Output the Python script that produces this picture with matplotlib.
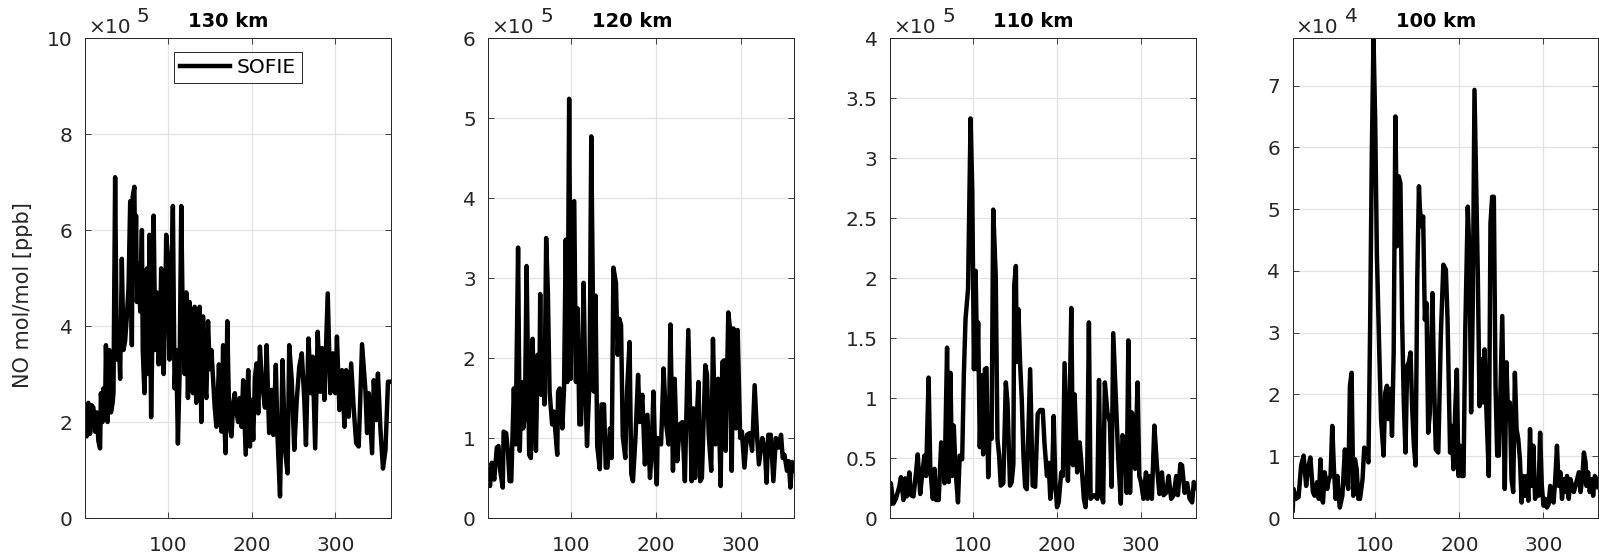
import matplotlib
matplotlib.use("Agg")
import matplotlib.pyplot as plt
from matplotlib.transforms import offset_copy

# altitude panels, values in units of 10^exp
titles = ["130 km", "120 km", "110 km", "100 km"]
exponents = [5, 5, 5, 4]
y_tops = [10, 6, 4, None]  # None -> tight to data max
x_lims = [(1, 366), (3, 362), (1, 365), (2, 365)]
y_ticks = [
    [0, 2, 4, 6, 8, 10],
    [0, 1, 2, 3, 4, 5, 6],
    [0, 0.5, 1, 1.5, 2, 2.5, 3, 3.5, 4],
    [0, 1, 2, 3, 4, 5, 6, 7],
]

day_130 = [1, 3, 5, 7, 9, 11, 13, 15, 17, 19, 20, 22, 23, 25, 26, 28, 30, 32, 34, 35,
           37, 39, 41, 43, 45, 47, 49, 51, 53, 55, 57, 58, 60, 61, 62, 63, 65, 67, 69, 70,
           72, 74, 75, 77, 78, 80, 81, 83, 85, 87, 89, 91, 92, 93, 95, 97, 98, 100, 102, 104,
           106, 108, 110, 112, 114, 116, 118, 120, 122, 124, 126, 128, 130, 132, 134, 136, 138, 140, 142, 144,
           146, 148, 150, 152, 154, 156, 158, 160, 161, 163, 164, 166, 167, 169, 171, 173, 174, 176, 178, 180,
           182, 184, 186, 188, 190, 193, 196, 198, 200, 202, 204, 206, 208, 210, 212, 214, 216, 218, 221, 224,
           226, 229, 231, 234, 237, 240, 243, 245, 248, 251, 254, 257, 260, 263, 265, 268, 271, 273, 276, 279,
           282, 284, 287, 291, 294, 297, 300, 302, 305, 308, 311, 313, 316, 319, 322, 325, 328, 332, 336, 338,
           340, 344, 346, 349, 351, 354, 357, 360, 363, 366]
no_130 = [2.2, 1.7, 2.4, 1.75, 2.35, 2.3, 1.8, 2.2, 1.6, 1.45, 2.6, 2.0, 2.7, 2.3, 3.6, 2.0, 3.5, 2.2, 2.4, 2.6,
          7.1, 3.3, 4.0, 2.9, 5.4, 3.5, 3.7, 4.2, 4.8, 6.6, 3.6, 6.7, 6.9, 5.0, 6.3, 4.5, 5.3, 4.3, 6.0, 3.5,
          2.6, 4.0, 5.2, 3.0, 5.9, 2.1, 3.2, 6.3, 3.5, 4.7, 3.2, 4.0, 5.2, 3.5, 3.0, 4.5, 5.9, 5.4, 3.3, 4.8,
          6.5, 2.7, 3.5, 1.55, 3.0, 6.5, 3.85, 3.0, 4.7, 2.5, 4.5, 3.0, 2.6, 4.4, 2.4, 3.5, 4.4, 2.0, 4.2, 2.8,
          2.5, 4.1, 3.1, 3.5, 2.9, 2.3, 1.9, 2.7, 3.2, 2.2, 1.8, 3.6, 2.2, 1.35, 4.1, 2.3, 1.9, 1.7, 2.4, 2.6,
          2.2, 2.0, 2.5, 1.9, 2.87, 1.32, 3.08, 1.49, 2.46, 1.63, 2.94, 3.22, 2.18, 3.57, 2.9, 2.6, 2.3, 3.6, 1.77, 2.67,
          1.73, 3.19, 1.7, 0.45, 3.29, 1.42, 0.93, 3.6, 2.87, 1.42, 2.46, 3.15, 3.43, 2.46, 1.52, 3.74, 2.6, 3.36, 1.45, 3.88,
          2.63, 3.54, 2.46, 4.68, 2.6, 3.43, 2.6, 3.78, 2.25, 3.08, 1.9, 3.08, 2.11, 3.22, 2.29, 1.56, 1.49, 3.62, 2.67, 1.77,
          2.6, 1.35, 2.87, 2.04, 3.01, 1.84, 1.03, 1.42, 2.84, 2.84]

day_120 = [3, 5, 7, 10, 13, 15, 17, 20, 21, 24, 26, 28, 30, 33, 35, 38, 40, 42, 44, 46,
           48, 51, 53, 55, 57, 59, 61, 63, 64, 65, 68, 69, 71, 73, 75, 78, 80, 84, 85, 87,
           90, 92, 94, 96, 98, 100, 102, 104, 106, 108, 110, 112, 115, 117, 119, 122, 124, 127, 129, 131,
           134, 136, 139, 141, 143, 146, 148, 150, 153, 155, 157, 159, 161, 164, 166, 169, 171, 173, 176, 179,
           181, 184, 187, 190, 193, 195, 197, 199, 201, 202, 206, 209, 212, 215, 217, 220, 222, 225, 228, 231,
           234, 238, 242, 244, 246, 248, 250, 252, 254, 258, 260, 262, 265, 267, 270, 273, 276, 278, 280, 282,
           285, 287, 289, 291, 294, 296, 299, 301, 304, 307, 310, 313, 316, 319, 321, 325, 328, 330, 332, 335,
           338, 341, 344, 347, 349, 351, 354, 356, 358, 360, 362]
no_120 = [0.6, 0.40, 0.69, 0.48, 0.88, 0.90, 0.59, 0.38, 1.08, 1.06, 0.84, 0.46, 0.46, 1.62, 0.92, 3.38, 0.84, 1.70, 1.12, 1.27,
          3.15, 0.79, 0.75, 2.24, 1.50, 0.84, 2.04, 1.58, 2.80, 1.54, 2.20, 1.42, 3.50, 2.82, 1.58, 1.17, 1.33, 0.79, 1.58, 1.62,
          1.12, 1.62, 3.48, 1.70, 5.24, 1.74, 3.94, 3.96, 1.70, 2.62, 1.17, 1.17, 2.94, 1.66, 0.90, 1.74, 4.77, 1.58, 2.78, 0.90,
          0.61, 1.42, 1.42, 0.63, 0.63, 1.12, 0.75, 3.13, 2.94, 2.04, 2.49, 2.41, 1.02, 0.75, 1.58, 2.2, 0.55, 0.46, 1.02, 1.79,
          1.2, 1.54, 0.67, 1.29, 0.50, 0.84, 1.58, 0.84, 0.42, 1.0, 0.92, 1.87, 1.17, 0.92, 2.42, 0.59, 1.74, 0.71, 1.17, 1.2,
          0.46, 2.35, 0.46, 1.37, 0.50, 1.25, 1.70, 0.46, 0.50, 1.91, 1.79, 1.04, 0.59, 2.24, 0.92, 1.74, 0.40, 1.95, 1.97, 0.84,
          2.57, 2.37, 0.59, 2.37, 1.12, 2.35, 1.0, 1.08, 0.63, 1.04, 1.06, 0.84, 1.66, 1.0, 0.67, 1.0, 0.86, 0.44, 1.04, 1.04,
          0.46, 1.0, 0.88, 1.04, 0.75, 0.79, 0.59, 0.71, 0.38, 0.7, 0.6]

day_110 = [1, 2, 5, 8, 12, 14, 17, 19, 21, 24, 26, 29, 32, 34, 37, 39, 42, 44, 47, 49,
           52, 54, 56, 59, 62, 64, 66, 69, 71, 73, 75, 77, 79, 82, 84, 87, 89, 91, 94, 97,
           99, 101, 103, 105, 106, 108, 110, 112, 114, 116, 118, 120, 122, 124, 127, 129, 131, 133, 136, 139,
           141, 144, 146, 148, 149, 151, 152, 154, 156, 158, 160, 162, 164, 168, 171, 174, 177, 180, 183, 185,
           188, 190, 192, 194, 196, 198, 200, 202, 205, 207, 209, 211, 213, 215, 217, 219, 221, 224, 227, 229,
           232, 234, 236, 238, 240, 244, 248, 250, 252, 255, 257, 260, 263, 265, 267, 270, 273, 276, 278, 281,
           283, 285, 287, 289, 291, 293, 296, 298, 300, 303, 306, 308, 310, 313, 316, 319, 322, 325, 327, 330,
           333, 336, 339, 342, 344, 347, 349, 352, 355, 358, 361, 363, 365]
no_110 = [0.12, 0.29, 0.12, 0.16, 0.26, 0.34, 0.15, 0.33, 0.18, 0.38, 0.19, 0.18, 0.38, 0.53, 0.20, 0.34, 0.52, 0.35, 1.17, 0.41,
          0.16, 0.41, 0.15, 0.15, 0.63, 0.52, 0.29, 1.42, 0.30, 1.21, 0.35, 0.77, 0.41, 0.13, 0.52, 0.49, 1.20, 1.66, 1.91, 3.33,
          2.74, 1.24, 2.06, 1.24, 1.63, 0.59, 1.19, 0.53, 1.24, 1.25, 0.34, 0.80, 0.66, 2.57, 2.01, 0.66, 0.52, 0.27, 0.29, 1.13,
          0.96, 0.27, 0.30, 0.45, 1.94, 2.10, 1.30, 1.74, 1.29, 0.99, 0.52, 0.26, 0.24, 1.24, 0.27, 0.26, 0.87, 0.90, 0.90, 0.63,
          0.35, 0.46, 0.16, 0.29, 0.85, 0.30, 0.09, 0.13, 0.38, 0.35, 1.29, 0.80, 0.31, 0.91, 1.75, 0.44, 1.03, 0.38, 0.63, 0.46,
          0.16, 0.09, 0.41, 1.63, 0.16, 0.19, 0.16, 1.15, 0.21, 0.13, 1.13, 0.88, 0.80, 0.26, 1.54, 1.02, 0.49, 0.12, 0.69, 0.63,
          0.21, 1.48, 0.21, 0.88, 0.85, 0.41, 1.13, 0.35, 0.30, 0.16, 0.38, 0.16, 0.35, 0.16, 0.77, 0.44, 0.20, 0.38, 0.19, 0.21,
          0.35, 0.16, 0.19, 0.35, 0.19, 0.45, 0.44, 0.21, 0.29, 0.16, 0.13, 0.30, 0.25]

day_100 = [2, 3, 6, 9, 12, 15, 18, 20, 23, 26, 28, 31, 33, 35, 37, 38, 40, 43, 45, 47,
           49, 51, 53, 55, 57, 58, 61, 64, 66, 68, 70, 72, 74, 76, 78, 80, 82, 85, 87, 90,
           92, 94, 96, 98, 100, 102, 105, 107, 110, 112, 114, 116, 118, 120, 122, 124, 126, 128, 130, 132,
           134, 136, 138, 140, 142, 144, 146, 148, 150, 152, 153, 155, 157, 159, 161, 163, 165, 168, 170, 172,
           175, 178, 181, 184, 186, 189, 191, 193, 195, 197, 199, 201, 203, 205, 207, 210, 212, 214, 216, 218,
           220, 222, 224, 226, 228, 230, 232, 235, 237, 239, 241, 243, 245, 247, 249, 251, 253, 254, 256, 258,
           260, 262, 264, 266, 268, 270, 272, 274, 276, 278, 280, 282, 284, 286, 288, 290, 292, 294, 296, 298,
           300, 302, 304, 306, 308, 310, 312, 314, 316, 318, 320, 322, 324, 326, 328, 330, 332, 334, 336, 338,
           340, 342, 344, 346, 348, 350, 351, 353, 355, 357, 359, 361, 363, 365]
no_100 = [0.12, 0.47, 0.31, 0.34, 0.85, 1.01, 0.52, 0.79, 0.98, 0.42, 0.36, 0.58, 0.31, 0.95, 0.31, 0.25, 0.74, 0.47, 0.63, 0.68,
          1.49, 0.79, 0.31, 0.68, 0.31, 0.17, 0.36, 1.11, 0.63, 0.47, 2.14, 2.35, 0.36, 0.95, 0.79, 0.31, 0.31, 0.63, 1.14, 1.06,
          0.90, 3.1, 5.9, 7.77, 6.45, 4.29, 2.62, 1.6, 1.01, 2.03, 2.14, 1.6, 2.09, 1.33, 2.68, 6.5, 4.4, 5.53, 5.42, 3.21,
          1.87, 1.06, 2.46, 2.52, 2.68, 1.76, 1.17, 0.85, 3.86, 5.37, 5.04, 4.72, 4.88, 3.21, 3.48, 1.38, 1.71, 3.64, 2.19, 1.11,
          1.06, 2.95, 4.1, 4.02, 3.21, 1.06, 1.49, 0.79, 1.71, 2.4, 0.68, 1.17, 0.68, 0.68, 3.0, 5.04, 4.29, 1.71, 3.48, 6.93,
          5.37, 3.91, 1.81, 2.57, 1.87, 2.73, 1.81, 0.68, 4.77, 5.2, 5.2, 2.14, 1.01, 1.01, 2.14, 3.27, 1.33, 0.47, 2.52, 1.6,
          1.87, 0.63, 0.42, 2.35, 1.44, 1.28, 0.95, 0.25, 0.68, 0.36, 0.68, 0.28, 1.44, 0.52, 1.17, 0.31, 0.52, 0.36, 1.38, 0.52,
          0.2, 0.31, 0.17, 0.22, 0.52, 0.31, 0.25, 0.63, 1.17, 0.52, 0.74, 0.31, 0.63, 0.42, 0.68, 0.31, 0.63, 0.52, 0.42, 0.52,
          0.63, 0.74, 0.42, 0.63, 1.06, 0.9, 0.52, 0.74, 0.42, 0.63, 0.36, 0.68, 0.63, 0.5]

series = [(day_130, no_130), (day_120, no_120), (day_110, no_110), (day_100, no_100)]

DARK = "#262626"
W, H = 1599, 557
lefts_px = [85, 488.3, 890, 1292.7]
ax_w_px, ax_h_px, bottom_px = 305.5, 480, 39

fig = plt.figure(figsize=(W / 100, H / 100), dpi=100)
fig.patch.set_facecolor("white")

for i, (days, vals) in enumerate(series):
    ax = fig.add_axes([lefts_px[i] / W, bottom_px / H, ax_w_px / W, ax_h_px / H])
    line, = ax.plot(days, vals, color="black", linewidth=3.2)
    ax.set_xlim(*x_lims[i])
    top = y_tops[i] if y_tops[i] is not None else max(vals)
    ax.set_ylim(0, top)
    ax.set_xticks([100, 200, 300])
    ax.set_yticks(y_ticks[i])
    ax.set_yticklabels([f"{v:g}" for v in y_ticks[i]])
    ax.grid(True, color="#e3e3e3", linewidth=0.9)
    ax.set_axisbelow(True)
    ax.tick_params(direction="in", top=True, right=True, length=4, width=0.6,
                   colors=DARK, labelsize=14.5)
    ax.tick_params(axis="y", pad=9)
    ax.tick_params(axis="x", pad=13)
    for sp in ax.spines.values():
        sp.set_color(DARK)
        sp.set_linewidth(0.7)

    ax.set_title(titles[i], fontsize=14, fontweight="bold", x=0.47, pad=8)

    # MATLAB-style exponent label above the axes
    ax.text(0, 1, "\u00d710", fontsize=14.5, color=DARK, ha="left", va="baseline",
            transform=offset_copy(ax.transAxes, fig=fig, x=3, y=5, units="dots"))
    ax.text(0, 1, str(exponents[i]), fontsize=14.5, color=DARK, ha="left", va="baseline",
            transform=offset_copy(ax.transAxes, fig=fig, x=52, y=16, units="dots"))

    if i == 0:
        ax.set_ylabel("NO mol/mol [ppb]", fontsize=15, color=DARK)
        ax.yaxis.set_label_coords(-0.17, 0.465)
        leg = ax.legend([line], ["SOFIE"], loc="upper center", bbox_to_anchor=(0.5, 0.98),
                        fancybox=False, framealpha=1, edgecolor=DARK, fontsize=14.5,
                        handlelength=2.5, borderpad=0.3, handletextpad=0.3,
                        borderaxespad=0.2)
        leg.get_frame().set_linewidth(0.7)

fig.savefig("out.png", dpi=100, facecolor="white")
